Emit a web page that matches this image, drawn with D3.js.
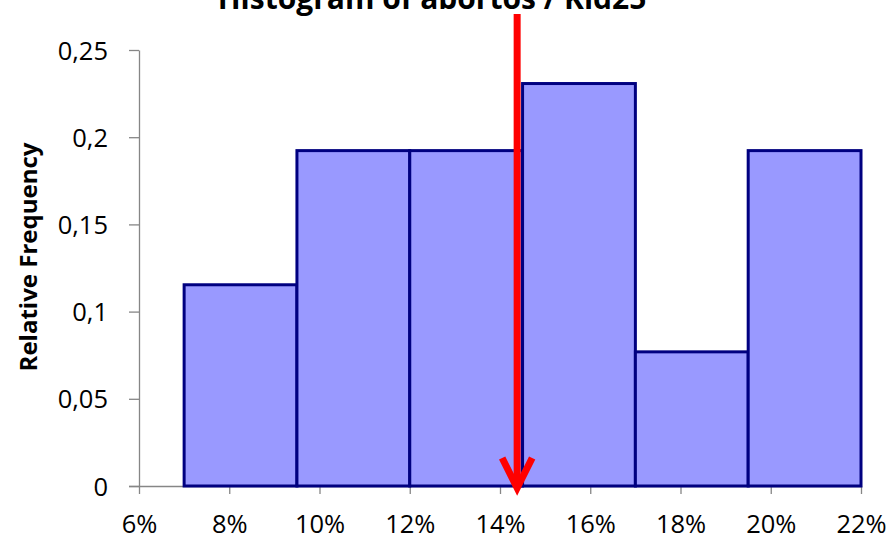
<!DOCTYPE html>
<html><head><meta charset="utf-8">
<script src="https://cdn.jsdelivr.net/npm/d3@7"></script>
<style>body{margin:0;background:#fff}svg{display:block}</style>
</head><body>
<svg id="c" width="892" height="539"></svg>
<script>
const binEdges = [0.07, 0.095, 0.12, 0.145, 0.17, 0.195, 0.22];
const relFreq = [3/26, 5/26, 5/26, 6/26, 2/26, 5/26];
const xTicks = [0.06, 0.08, 0.10, 0.12, 0.14, 0.16, 0.18, 0.20, 0.22];
const yTicks = [0, 0.05, 0.1, 0.15, 0.2, 0.25];
const markerValue = [0.1438];
const titleText = "Histogram of abortos / Kid25";
const yTitle = "Relative Frequency";

const svg = d3.select("#c");
const font = "'Open Sans', 'Liberation Sans', sans-serif";
const m = {l:139, r:861, t:50, b:486};
const x = d3.scaleLinear().domain([0.06,0.22]).range([m.l,m.r]);
const y = d3.scaleLinear().domain([0,0.25]).range([m.b,m.t]);

const ax = svg.append("g").attr("transform",`translate(0,${m.b})`)
  .call(d3.axisBottom(x).tickValues(xTicks).tickSize(8).tickSizeOuter(0).tickFormat(d=>Math.round(d*100)+"%"));
const ay = svg.append("g").attr("transform",`translate(${m.l},0)`)
  .call(d3.axisLeft(y).tickValues(yTicks).tickSize(10).tickSizeOuter(0).tickFormat(d=>String(d).replace(".",",")));
[ax,ay].forEach(g=>{
  g.attr("font-family",font).attr("font-size",25.5);
  g.selectAll("path,line").attr("stroke","#868686").attr("stroke-width",1.3);
  g.selectAll("text").attr("fill","#000");
});
ax.select(".domain").attr("d",`M${m.l-10},0.5H${m.r}`);
ax.selectAll("text").attr("y",47).attr("dy",0);
ay.selectAll("text").attr("x",-31).attr("dy","0.36em");

const bins = relFreq.map((v,i)=>({x0:binEdges[i], x1:binEdges[i+1], v}));
svg.append("g").selectAll("rect").data(bins).enter().append("rect")
  .attr("x", d=>x(d.x0)).attr("width", d=>x(d.x1)-x(d.x0))
  .attr("y", d=>y(d.v)).attr("height", d=>y(0)-y(d.v))
  .attr("fill","#9999ff").attr("stroke","#000080").attr("stroke-width",3);

// red arrow
const mx = x(markerValue[0]);
const arr = svg.append("g").attr("stroke","#ff0000").attr("stroke-width",7).attr("fill","none");
arr.append("line").attr("x1",mx).attr("x2",mx).attr("y1",14).attr("y2",y(0)+2);
arr.append("path").attr("d",`M${mx-15},${y(0)-28}L${mx},${y(0)+2}L${mx+15},${y(0)-28}`).attr("stroke-linejoin","miter");

svg.append("text").attr("x",432).attr("y",9).attr("text-anchor","middle")
  .attr("font-family",font).attr("font-weight","bold").attr("font-size",30).text(titleText);
svg.append("text").attr("transform","translate(37,257) rotate(-90)").attr("text-anchor","middle")
  .attr("font-family",font).attr("font-weight","bold").attr("font-size",24).text(yTitle);
</script>
</body></html>
